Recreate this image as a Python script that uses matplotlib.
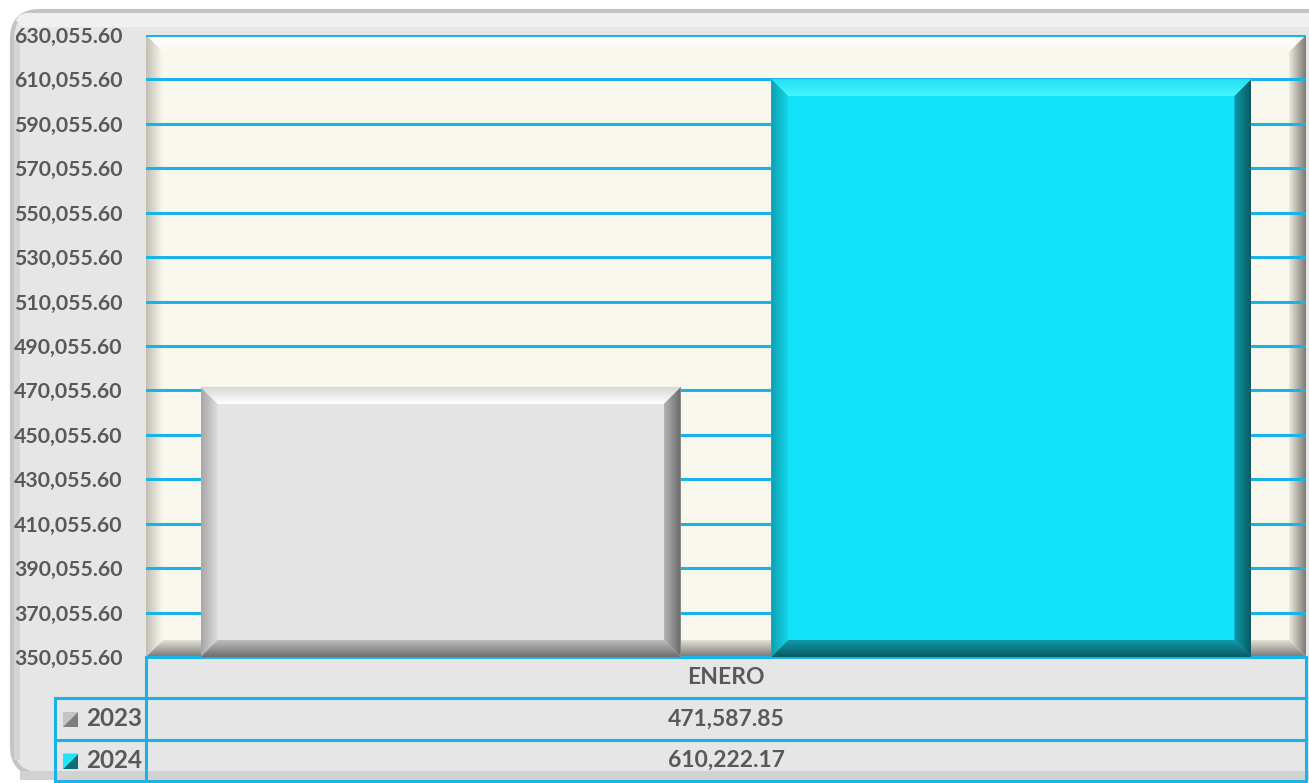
import numpy as np
import matplotlib.pyplot as plt
from matplotlib.patches import FancyBboxPatch, Polygon, Rectangle
from matplotlib.colors import to_rgba

# data
categories = ['ENERO']
series = ['2023', '2024']
values_2023 = [471587.85]
values_2024 = [610222.17]
yticks = [350055.60 + 20000 * i for i in range(15)]

bar_colors = ['#E4E4E4', '#12E2F9']
# (outer, inner) for top, left, right, bottom
bar_bevels = [
    [('#D8D8D8', '#FFFFFF'), ('#A6A6A6', '#DEDEDE'), ('#6A6A6A', '#B4B4B4'), ('#6E6E6E', '#BDBDBD')],
    [('#22E0F2', '#45F6FF'), ('#0E9FAF', '#12D6EC'), ('#095A63', '#0E98A8'), ('#0A5A62', '#0F9AA8')],
]
area_bevel = [('#FFFFFF', '#FAF8EE'), ('#C2C0B3', '#FAF8EE'), ('#7C7A72', '#ECEADF'), ('#777777', '#E2E0D6')]
grid_c = '#18B4E8'
txt_c = '#595959'
plt.rcParams['font.family'] = ['Lato', 'DejaVu Sans']


def grad_poly(ax, verts, c_out, c_in, side, z):
    verts = np.array(verts)
    xa, xb = verts[:, 0].min(), verts[:, 0].max()
    ya, yb = verts[:, 1].min(), verts[:, 1].max()
    t = np.linspace(0, 1, 64)
    a, b = np.array(to_rgba(c_out)), np.array(to_rgba(c_in))
    if side in ('top', 'right'):
        cols = b + (a - b) * t[:, None]
    else:
        cols = a + (b - a) * t[:, None]
    img = cols[:, None, :] if side in ('top', 'bottom') else cols[None, :, :]
    poly = Polygon(verts, fc='none', ec='none')
    ax.add_patch(poly)
    im = ax.imshow(img, extent=(xa, xb, ya, yb), origin='lower', aspect='auto',
                   interpolation='bilinear', zorder=z)
    im.set_clip_path(poly)


def bevel(ax, x0, x1, y0, y1, dx, dy, cols, z):
    sides = {
        'top': [(x0, y1), (x1, y1), (x1 - dx, y1 - dy), (x0 + dx, y1 - dy)],
        'left': [(x0, y0), (x0, y1), (x0 + dx, y1 - dy), (x0 + dx, y0 + dy)],
        'right': [(x1, y0), (x1, y1), (x1 - dx, y1 - dy), (x1 - dx, y0 + dy)],
        'bottom': [(x0, y0), (x1, y0), (x1 - dx, y0 + dy), (x0 + dx, y0 + dy)],
    }
    for (name, v), (co, ci) in zip(sides.items(), cols):
        grad_poly(ax, v, co, ci, name, z)


W, H = 1309, 783
fig = plt.figure(figsize=(W / 100, H / 100), dpi=100)
fig.patch.set_facecolor('white')

# background axes in pixel coords (y down)
bg = fig.add_axes([0, 0, 1, 1])
bg.set_xlim(0, W)
bg.set_ylim(H, 0)
bg.axis('off')

bg.add_patch(FancyBboxPatch((12, 11), W + 20, H - 20, boxstyle='round,pad=0,rounding_size=28',
                            fc='#E6E6E6', ec='#C4C4C4', lw=3))
bg.add_patch(FancyBboxPatch((16, 13), W + 20, 14, boxstyle='round,pad=0,rounding_size=12',
                            fc='#F0F0F0', ec='none'))
bg.add_patch(Rectangle((20, 771), W, 9, fc='#D2D2D2', ec='none'))
bg.add_patch(Rectangle((14, 40), 6, 720, fc='#D4D4D4', ec='none'))

# plot area
L, R, T, B = 146, 1306, 35, 657
ax = fig.add_axes([L / W, 1 - B / H, (R - L) / W, (B - T) / H])
ax.set_facecolor('#FAF8EE')
ax.set_autoscale_on(False)
ax.set_xlim(-0.5, 0.5)
ax.set_ylim(yticks[0], yticks[-1])

pw, ph = R - L, B - T
bv = 17
dx = bv * 1.0 / pw
dy = bv * (yticks[-1] - yticks[0]) / ph
bevel(ax, -0.5, 0.5, yticks[0], yticks[-1], dx, dy, area_bevel, 0.5)

for y in yticks:
    ax.axhline(y, color=grid_c, lw=2.2, zorder=1)

bw = 0.414
gap = 0.078
offs = [-(bw + gap) / 2, (bw + gap) / 2]
for i, vals in enumerate([values_2023, values_2024]):
    bars = ax.bar(np.arange(len(categories)) + offs[i], vals, width=bw, bottom=0,
                  color=bar_colors[i], zorder=2)
    for b in bars:
        bx0, bx1 = b.get_x(), b.get_x() + b.get_width()
        bevel(ax, bx0, bx1, yticks[0], b.get_height(), dx, dy, bar_bevels[i], 3)

ax.set_xlim(-0.5, 0.5)
ax.set_ylim(yticks[0], yticks[-1])
ax.set_xticks([])
ax.set_yticks(yticks)
ax.set_yticklabels([f'{v:,.2f}' for v in yticks], fontsize=15.3, fontweight='bold', color=txt_c)
ax.tick_params(axis='y', length=0, pad=17)
for s in ax.spines.values():
    s.set_visible(False)

# data table
rows_y = [657, 698, 740, 781]
lw = 2.2
bg.plot([L, R], [rows_y[0], rows_y[0]], color=grid_c, lw=lw)
for y in rows_y[1:]:
    bg.plot([55, R], [y, y], color=grid_c, lw=lw)
bg.plot([L, L], [rows_y[0], rows_y[-1]], color=grid_c, lw=lw)
bg.plot([R, R], [rows_y[0], rows_y[-1]], color=grid_c, lw=lw)
bg.plot([55, 55], [rows_y[1], rows_y[-1]], color=grid_c, lw=lw)

cx = (L + R) / 2
bg.text(cx, (rows_y[0] + rows_y[1]) / 2, categories[0], ha='center', va='center',
        fontsize=16.5, fontweight='bold', color=txt_c)
key_cols = [('#C4C4C4', '#7E7E7E'), ('#1EE6F8', '#0B6F7A')]
for i, vals in enumerate([values_2023, values_2024]):
    yc = (rows_y[i + 1] + rows_y[i + 2]) / 2
    bg.text(cx, yc, f'{vals[0]:,.2f}', ha='center', va='center',
            fontsize=16.5, fontweight='bold', color=txt_c)
    bg.text(86, yc, series[i], ha='left', va='center', fontsize=17.5, fontweight='bold', color=txt_c)
    kx, ky, ks = 63, yc - 7, 15
    bg.add_patch(Polygon([(kx, ky), (kx + ks, ky), (kx, ky + ks)], fc=key_cols[i][0], ec='none'))
    bg.add_patch(Polygon([(kx + ks, ky), (kx + ks, ky + ks), (kx, ky + ks)], fc=key_cols[i][1], ec='none'))

fig.savefig('out.png', dpi=100)
